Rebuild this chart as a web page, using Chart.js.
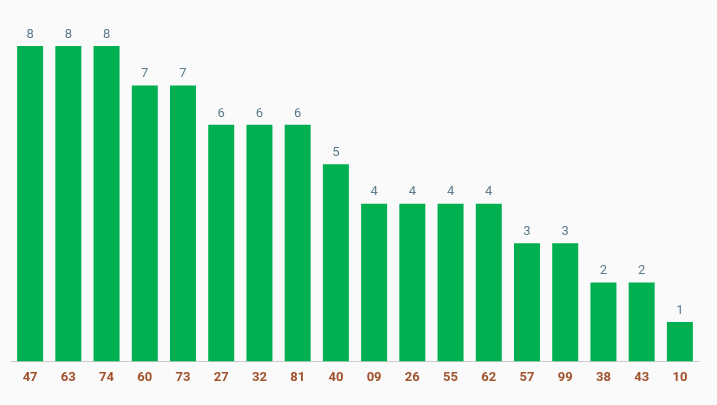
<!DOCTYPE html>
<html><head><meta charset="utf-8">
<script src="https://cdn.jsdelivr.net/npm/chart.js@4"></script>
<style>html,body{margin:0;padding:0;background:#fafafa;}#w{width:717px;height:405px;}</style>
</head><body><div id="w"><canvas id="c"></canvas></div>
<script>
const categories = ["47","63","74","60","73","27","32","81","40","09","26","55","62","57","99","38","43","10"];
const values = [8,8,8,7,7,6,6,6,5,4,4,4,4,3,3,2,2,1];

const valueLabels = {
  id: 'valueLabels',
  afterDatasetsDraw(chart) {
    const ctx = chart.ctx;
    const meta = chart.getDatasetMeta(0);
    ctx.save();
    ctx.font = '13px Roboto';
    ctx.fillStyle = '#5b7b8c';
    ctx.textAlign = 'center';
    ctx.textBaseline = 'bottom';
    meta.data.forEach((bar, i) => {
      ctx.fillText(String(values[i]), bar.x, bar.y - 5);
    });
    ctx.restore();
  }
};

new Chart(document.getElementById('c'), {
  type: 'bar',
  data: { labels: categories, datasets: [{ data: values, backgroundColor: '#00b050', barPercentage: 0.68, categoryPercentage: 1 }] },
  options: {
    responsive: true, maintainAspectRatio: false, animation: false,
    layout: { padding: { left: 11, right: 18, top: 46, bottom: 10 } },
    plugins: { legend: { display: false }, tooltip: { enabled: false } },
    scales: {
      y: { display: false, min: 0, max: 8 },
      x: {
        grid: { display: false, drawTicks: false },
        border: { display: true, color: '#cccccc' },
        ticks: { color: '#a0522d', font: { family: 'Roboto', size: 13, weight: 'bold' }, padding: 9 }
      }
    }
  },
  plugins: [valueLabels]
});
</script></body></html>
